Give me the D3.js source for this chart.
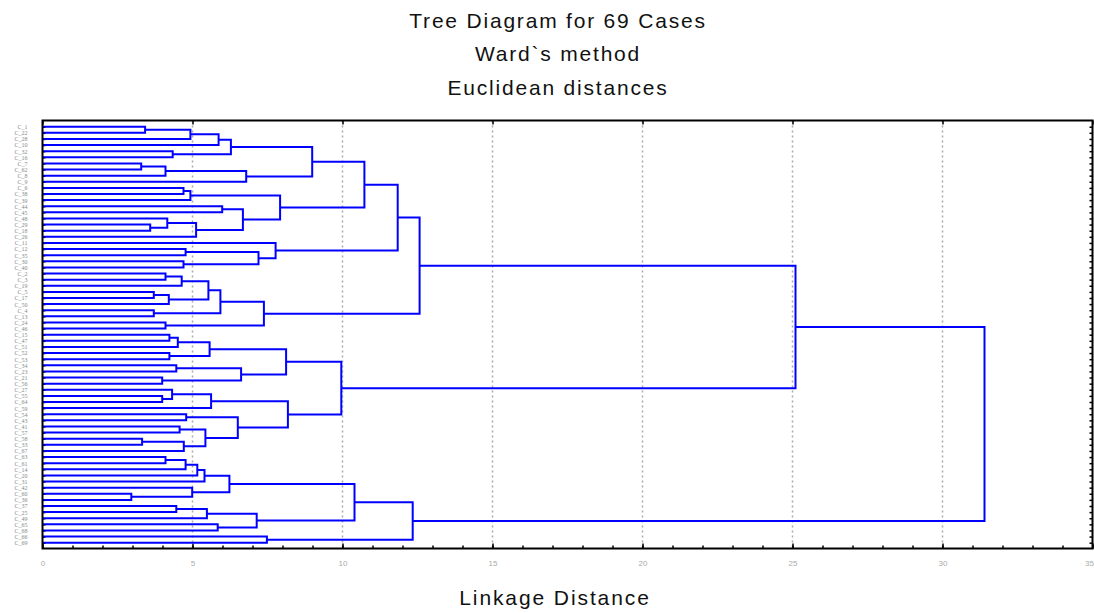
<!DOCTYPE html>
<html>
<head>
<meta charset="utf-8">
<script src="https://cdn.jsdelivr.net/npm/d3@7"></script>
<style>
  body { margin: 0; background: #fff; }
  svg { display: block; }
</style>
</head>
<body>
<svg id="chart" width="1094" height="613"></svg>
<script>
// leaf labels, top to bottom
var leafLabels = ["C_1","C_22","C_28","C_10","C_32","C_16","C_7","C_62","C_8","C_9",
    "C_6","C_38","C_39","C_44","C_45","C_48","C_29","C_18","C_26","C_11",
    "C_12","C_35","C_30","C_40","C_2","C_3","C_19","C_5","C_17","C_50",
    "C_4","C_13","C_24","C_46","C_15","C_47","C_51","C_52","C_53","C_34",
    "C_23","C_21","C_56","C_27","C_55","C_64","C_59","C_54","C_43","C_41",
    "C_57","C_58","C_33","C_67","C_63","C_61","C_14","C_20","C_31","C_42",
    "C_60","C_36","C_37","C_25","C_49","C_65","C_68","C_66","C_69"];

// linkage: [a, b, distance]; ids >= 69 point to earlier merges
var merges = [
    [0, 1, 3.42], [69, 2, 4.93], [70, 3, 5.87], [4, 5, 4.34], [71, 72, 6.28],
    [6, 7, 3.29], [74, 8, 4.10], [75, 9, 6.79], [73, 76, 8.99], [10, 11, 4.70],
    [78, 12, 4.93], [13, 14, 5.99], [16, 17, 3.59], [15, 81, 4.16], [82, 18, 5.12],
    [80, 83, 6.68], [79, 84, 7.92], [77, 85, 10.73], [20, 21, 4.77], [22, 23, 4.70],
    [87, 88, 7.20], [19, 89, 7.77], [86, 90, 11.84], [24, 25, 4.10], [92, 26, 4.64],
    [27, 28, 3.71], [94, 29, 4.21], [93, 95, 5.53], [30, 31, 3.71], [96, 97, 5.93],
    [32, 33, 4.10], [98, 99, 7.38], [91, 100, 12.57], [34, 35, 4.23], [102, 36, 4.51],
    [37, 38, 4.23], [103, 104, 5.57], [39, 40, 4.46], [41, 42, 3.99], [106, 107, 6.62],
    [105, 108, 8.12], [44, 45, 3.99], [43, 110, 4.32], [111, 46, 5.62], [47, 48, 4.79],
    [49, 50, 4.57], [51, 52, 3.32], [115, 53, 4.71], [114, 116, 5.43], [113, 117, 6.51],
    [112, 118, 8.18], [109, 119, 9.96], [101, 120, 25.10], [54, 55, 4.10], [122, 56, 4.77],
    [123, 57, 5.16], [124, 58, 5.40], [60, 61, 2.96], [59, 126, 4.99], [125, 127, 6.23],
    [62, 63, 4.46], [129, 64, 5.48], [65, 66, 5.84], [130, 131, 7.14], [128, 132, 10.40],
    [67, 68, 7.48], [133, 134, 12.34], [121, 135, 31.40]
];

var majorTicks = [0, 5, 10, 15, 20, 25, 30, 35];
var minorTicks = d3.range(0, 36);
var titleLines = ["Tree Diagram for 69 Cases", "Ward`s method", "Euclidean distances"];
var xTitle = "Linkage Distance";

var mLeft = 42.5, mRight = 1092.5, mTop = 120.5, mBottom = 548.5;
var svg = d3.select("#chart");

var x = d3.scaleLinear().domain([0, 35]).range([mLeft, mRight]);
var y = d3.scalePoint().domain(leafLabels).range([126.7, 542.7]);

// build tree from linkage
var nodes = leafLabels.map(function(name) { return {name: name, height: 0}; });
merges.forEach(function(m) {
    nodes.push({height: m[2], children: [nodes[m[0]], nodes[m[1]]]});
});
var root = d3.hierarchy(nodes[nodes.length - 1]);
root.eachAfter(function(d) {
    if (d.children) d.py = (d.children[0].py + d.children[1].py) / 2;
    else d.py = y(d.data.name);
});

// titles
svg.selectAll("text.title").data(titleLines).enter().append("text")
    .attr("class", "title")
    .attr("x", 558).attr("y", function(d, i) { return 27.5 + i * 33.5; })
    .attr("text-anchor", "middle")
    .style("font-family", "'Liberation Sans', Arial, sans-serif")
    .style("font-size", "21px").style("letter-spacing", "1.8px")
    .attr("fill", "#111")
    .text(function(d) { return d; });

svg.append("text")
    .attr("x", 555).attr("y", 604.5)
    .attr("text-anchor", "middle")
    .style("font-family", "'Liberation Sans', Arial, sans-serif")
    .style("font-size", "21px").style("letter-spacing", "1.9px")
    .attr("fill", "#111")
    .text(xTitle);

// dotted grid
svg.append("g").selectAll("line").data(majorTicks.slice(1, -1)).enter().append("line")
    .attr("x1", x).attr("x2", x)
    .attr("y1", mTop).attr("y2", mBottom)
    .attr("stroke", "#aaa").attr("stroke-width", 1.5)
    .attr("stroke-dasharray", "2,3");

// axes
function clean(g) { g.select(".domain").remove(); g.selectAll(".tick line").attr("stroke", "#000").attr("stroke-width", 1.5); }

svg.append("g").attr("transform", "translate(0," + mBottom + ")")
    .call(d3.axisBottom(x).tickValues(minorTicks).tickSize(-3).tickFormat(""))
    .call(clean);
var bx = svg.append("g").attr("transform", "translate(0," + mBottom + ")")
    .call(d3.axisBottom(x).tickValues(majorTicks).tickSize(-5).tickPadding(12).tickFormat(d3.format("d")))
    .call(clean);
bx.selectAll("text").attr("fill", "#aaa")
    .style("font-family", "'Liberation Sans', Arial, sans-serif").style("font-size", "8px")
    .attr("text-anchor", function(d) { return d === 35 ? "end" : "middle"; })
    .attr("dx", function(d) { return d === 35 ? 1 : 0; });
svg.append("g").attr("transform", "translate(0," + mTop + ")")
    .call(d3.axisTop(x).tickValues(majorTicks).tickSize(-4).tickFormat(""))
    .call(clean);
svg.append("g").attr("transform", "translate(" + mLeft + ",0)")
    .call(d3.axisLeft(y).tickSize(-3).tickPadding(15))
    .call(clean)
    .selectAll("text").attr("fill", "#888")
    .style("font-family", "'Liberation Serif', serif").style("font-size", "6px");
svg.append("g").attr("transform", "translate(" + mRight + ",0)")
    .call(d3.axisRight(y).tickSize(-3).tickFormat(""))
    .call(clean);

// dendrogram
svg.append("g").selectAll("path").data(root.descendants().filter(function(d) { return d.children; }))
    .enter().append("path")
    .attr("d", function(d) {
        var a = d.children[0], b = d.children[1];
        return "M" + x(a.data.height) + "," + a.py + "H" + x(d.data.height) +
            "V" + b.py + "H" + x(b.data.height);
    })
    .attr("fill", "none").attr("stroke", "#0000ff").attr("stroke-width", 2);

// frame
svg.append("rect")
    .attr("x", mLeft).attr("y", mTop)
    .attr("width", mRight - mLeft).attr("height", mBottom - mTop)
    .attr("fill", "none").attr("stroke", "#000").attr("stroke-width", 2);
</script>
</body>
</html>
